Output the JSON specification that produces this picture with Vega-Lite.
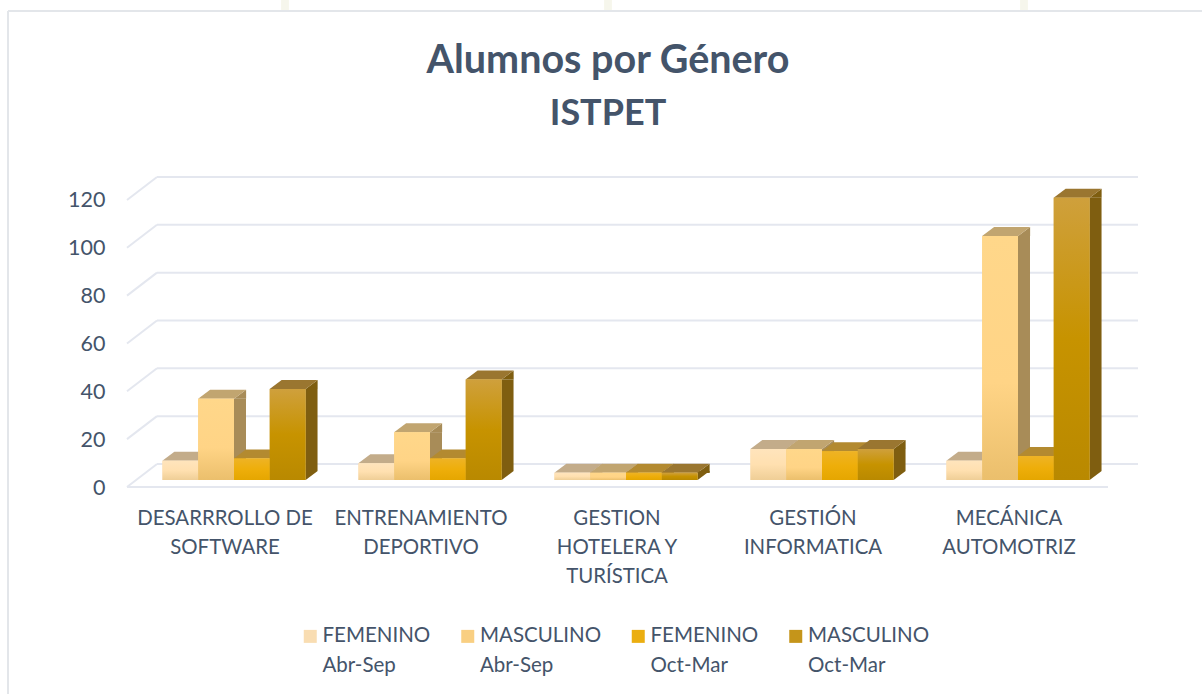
{
"$schema":"https://vega.github.io/schema/vega-lite/v6.json",
"autosize":"none","width":980,"height":299,
"padding":{"left":136,"top":181,"right":86,"bottom":214},
"background":"white",
"title":{"text":"Alumnos por Género","subtitle":"ISTPET","font":"Lato","fontSize":39.5,"fontWeight":"bold","color":"#44546A","subtitleFont":"Lato","subtitleFontSize":36,"subtitleFontWeight":"bold","subtitleColor":"#44546A","subtitlePadding":15,"anchor":"middle","frame":"group","dx":-18,"offset":-136},
"config":{"view":{"stroke":null},
 "style":{"guide-label":{"lineHeight":30}},
 "axisX":{"domain":false,"ticks":false,"labelAngle":0,"labelFont":"Lato","labelFontSize":20.4,"labelColor":"#44546A","labelOffset":-9,"labelPadding":28,"labelLineHeight":29,"labelLimit":400,"labelOverlap":false,"labelBound":false,"labelFlush":false,"grid":false,
   "labelExpr":"datum.value=='DESARRROLLO DE SOFTWARE'?['DESARRROLLO DE','SOFTWARE']:datum.value=='ENTRENAMIENTO DEPORTIVO'?['ENTRENAMIENTO','DEPORTIVO']:datum.value=='GESTION HOTELERA Y TURÍSTICA'?['GESTION','HOTELERA Y','TURÍSTICA']:datum.value=='GESTIÓN INFORMATICA'?['GESTIÓN','INFORMATICA']:['MECÁNICA','AUTOMOTRIZ']"},
 "axisY":{"domain":false,"ticks":false,"grid":false,"labelFont":"Lato","labelFontSize":21.5,"labelColor":"#44546A","labelPadding":31,"labelOffset":8}},
"data":{"values":[
{"carrera":"DESARRROLLO DE SOFTWARE","serie":"FEMENINO|Abr-Sep","alumnos":8},
{"carrera":"DESARRROLLO DE SOFTWARE","serie":"MASCULINO|Abr-Sep","alumnos":34},
{"carrera":"DESARRROLLO DE SOFTWARE","serie":"FEMENINO|Oct-Mar","alumnos":9},
{"carrera":"DESARRROLLO DE SOFTWARE","serie":"MASCULINO|Oct-Mar","alumnos":38},
{"carrera":"ENTRENAMIENTO DEPORTIVO","serie":"FEMENINO|Abr-Sep","alumnos":7},
{"carrera":"ENTRENAMIENTO DEPORTIVO","serie":"MASCULINO|Abr-Sep","alumnos":20},
{"carrera":"ENTRENAMIENTO DEPORTIVO","serie":"FEMENINO|Oct-Mar","alumnos":9},
{"carrera":"ENTRENAMIENTO DEPORTIVO","serie":"MASCULINO|Oct-Mar","alumnos":42},
{"carrera":"GESTION HOTELERA Y TURÍSTICA","serie":"FEMENINO|Abr-Sep","alumnos":3},
{"carrera":"GESTION HOTELERA Y TURÍSTICA","serie":"MASCULINO|Abr-Sep","alumnos":3},
{"carrera":"GESTION HOTELERA Y TURÍSTICA","serie":"FEMENINO|Oct-Mar","alumnos":3},
{"carrera":"GESTION HOTELERA Y TURÍSTICA","serie":"MASCULINO|Oct-Mar","alumnos":3},
{"carrera":"GESTIÓN INFORMATICA","serie":"FEMENINO|Abr-Sep","alumnos":13},
{"carrera":"GESTIÓN INFORMATICA","serie":"MASCULINO|Abr-Sep","alumnos":13},
{"carrera":"GESTIÓN INFORMATICA","serie":"FEMENINO|Oct-Mar","alumnos":12},
{"carrera":"GESTIÓN INFORMATICA","serie":"MASCULINO|Oct-Mar","alumnos":13},
{"carrera":"MECÁNICA AUTOMOTRIZ","serie":"FEMENINO|Abr-Sep","alumnos":8},
{"carrera":"MECÁNICA AUTOMOTRIZ","serie":"MASCULINO|Abr-Sep","alumnos":102},
{"carrera":"MECÁNICA AUTOMOTRIZ","serie":"FEMENINO|Oct-Mar","alumnos":10},
{"carrera":"MECÁNICA AUTOMOTRIZ","serie":"MASCULINO|Oct-Mar","alumnos":118}
]},
"resolve":{"scale":{"color":"independent"}},
"layer":[
{"mark":{"type":"rule","stroke":"#E3E6EA","strokeWidth":2},"encoding":{"x":{"value":-128},"x2":{"value":1066},"y":{"value":-170}}},
{"mark":{"type":"rule","stroke":"#E3E6EA","strokeWidth":2},"encoding":{"x":{"value":-128},"y":{"value":-170},"y2":{"value":513}}},
{"mark":{"type":"rule","stroke":"#F6F6EC","strokeWidth":7},"encoding":{"x":{"value":149},"y":{"value":-181},"y2":{"value":-171}}},
{"mark":{"type":"rule","stroke":"#F6F6EC","strokeWidth":7},"encoding":{"x":{"value":472},"y":{"value":-181},"y2":{"value":-171}}},
{"mark":{"type":"rule","stroke":"#F6F6EC","strokeWidth":7},"encoding":{"x":{"value":888},"y":{"value":-181},"y2":{"value":-171}}},
{"data":{"values":[{"t":0},{"t":20},{"t":40},{"t":60},{"t":80},{"t":100},{"t":120}]},
 "mark":{"type":"rule","stroke":"#E4E7EF","strokeWidth":2,"yOffset":-16},
 "encoding":{"x":{"value":21},"x2":{"value":1002},"y":{"field":"t","type":"quantitative","title":null,"scale":{"domain":[0,125],"nice":false}}}},
{"data":{"values":[{"t":0},{"t":20},{"t":40},{"t":60},{"t":80},{"t":100},{"t":120}]},
 "mark":{"type":"point","shape":"M0 0L30 -23","size":4,"stroke":"#E4E7EF","strokeWidth":2,"opacity":1,"filled":false,"yOffset":7},
 "encoding":{"x":{"value":-9},"y":{"field":"t","type":"quantitative","title":null}}},
{"data":{"values":[{"t":0}]},
 "mark":{"type":"rule","stroke":"#E4E7EF","strokeWidth":2,"yOffset":7},
 "encoding":{"x":{"value":-9},"x2":{"value":972},"y":{"field":"t","type":"quantitative","title":null}}},
{"transform":[{"filter":"datum.serie=='FEMENINO|Abr-Sep'"}],
 "mark":{"type":"rule","strokeWidth":12,"xOffset":6,"y2Offset":-9,"stroke":"#B9A284"},
 "encoding":{"x":{"field":"carrera","type":"nominal","sort":null,"title":null,"bandPosition":0.25,"scale":{"paddingInner":0.27,"paddingOuter":0.135}},"y":{"field":"alumnos","type":"quantitative","title":null},"y2":{"datum":0}}},
{"transform":[{"filter":"datum.serie=='MASCULINO|Abr-Sep'"}],
 "mark":{"type":"rule","strokeWidth":12,"xOffset":6,"y2Offset":-9,"stroke":"#A88C58"},
 "encoding":{"x":{"field":"carrera","type":"nominal","sort":null,"title":null,"bandPosition":0.5},"y":{"field":"alumnos","type":"quantitative","title":null},"y2":{"datum":0}}},
{"transform":[{"filter":"datum.serie=='FEMENINO|Oct-Mar'"}],
 "mark":{"type":"rule","strokeWidth":12,"xOffset":6,"y2Offset":-9,"stroke":"#92701F"},
 "encoding":{"x":{"field":"carrera","type":"nominal","sort":null,"title":null,"bandPosition":0.75},"y":{"field":"alumnos","type":"quantitative","title":null},"y2":{"datum":0}}},
{"transform":[{"filter":"datum.serie=='MASCULINO|Oct-Mar'"}],
 "mark":{"type":"rule","strokeWidth":12,"xOffset":6,"y2Offset":-9,"stroke":"#7F5E10"},
 "encoding":{"x":{"field":"carrera","type":"nominal","sort":null,"title":null,"bandPosition":1},"y":{"field":"alumnos","type":"quantitative","title":null},"y2":{"datum":0}}},
{"mark":{"type":"point","shape":"M18 0L30 -9L30 0Z","size":4,"filled":true,"opacity":1,"strokeWidth":0},
 "encoding":{
  "x":{"field":"carrera","type":"nominal","sort":null,"title":null},
  "xOffset":{"field":"serie","type":"nominal","sort":null,"scale":{"padding":0}},
  "y":{"field":"alumnos","type":"quantitative","title":null},
  "color":{"field":"serie","type":"nominal","sort":null,"legend":null,"scale":{"domain":["FEMENINO|Abr-Sep","MASCULINO|Abr-Sep","FEMENINO|Oct-Mar","MASCULINO|Oct-Mar"],"range":["#B9A284","#A88C58","#92701F","#7F5E10"]}}}},
{"mark":{"type":"point","shape":"M18 0L30 -9L18 -9Z","size":4,"filled":true,"opacity":1,"strokeWidth":0},
 "encoding":{
  "x":{"field":"carrera","type":"nominal","sort":null,"title":null},
  "xOffset":{"field":"serie","type":"nominal","sort":null},
  "y":{"datum":0,"type":"quantitative","title":null},
  "color":{"field":"serie","type":"nominal","sort":null,"legend":null,"scale":{"domain":["FEMENINO|Abr-Sep","MASCULINO|Abr-Sep","FEMENINO|Oct-Mar","MASCULINO|Oct-Mar"],"range":["#B9A284","#A88C58","#92701F","#7F5E10"]}}}},
{"mark":{"type":"point","shape":"M-18 0L-6 -9L30 -9L18 0Z","size":4,"filled":true,"opacity":1,"strokeWidth":0},
 "encoding":{
  "x":{"field":"carrera","type":"nominal","sort":null,"title":null},
  "xOffset":{"field":"serie","type":"nominal","sort":null},
  "y":{"field":"alumnos","type":"quantitative","title":null},
  "color":{"field":"serie","type":"nominal","sort":null,"legend":null,"scale":{"domain":["FEMENINO|Abr-Sep","MASCULINO|Abr-Sep","FEMENINO|Oct-Mar","MASCULINO|Oct-Mar"],"range":["#C3AC8A","#C1A570","#B38A30","#9A7630"]}}}},
{"mark":{"type":"bar","stroke":null},
 "encoding":{
  "x":{"field":"carrera","type":"nominal","sort":null,"title":null},
  "xOffset":{"field":"serie","type":"nominal","sort":null},
  "y":{"field":"alumnos","type":"quantitative","stack":null,"title":null},
  "color":{"field":"serie","type":"nominal","sort":null,
   "scale":{"domain":["FEMENINO|Abr-Sep","MASCULINO|Abr-Sep","FEMENINO|Oct-Mar","MASCULINO|Oct-Mar"],
    "range":["#F9DDB2","#F9CF82","#EBAE10","#C5951A"]},
   "legend":{"title":null,"orient":"none","legendX":164,"legendY":445,"direction":"horizontal","columns":4,"columnPadding":26.5,"symbolType":"square","symbolSize":169,"symbolStrokeWidth":0,"labelFont":"Lato","labelFontSize":20.5,"labelColor":"#44546A","labelLimit":300,"labelOffset":2,
    "labelExpr":"split(datum.label,'|')"}}}},
{"transform":[{"filter":"datum.serie=='FEMENINO|Abr-Sep'"}],
 "mark":{"type":"bar","stroke":null,"color":{"gradient":"linear","x1":0,"y1":0,"x2":0,"y2":1,"stops":[{"offset":0,"color":"#FFE4BC"},{"offset":0.5,"color":"#FFE0B0"},{"offset":1,"color":"#EFCE96"}]}},
 "encoding":{"x":{"field":"carrera","type":"nominal","sort":null,"title":null},"xOffset":{"field":"serie","type":"nominal","sort":null},"y":{"field":"alumnos","type":"quantitative","stack":null,"title":null}}},
{"transform":[{"filter":"datum.serie=='MASCULINO|Abr-Sep'"}],
 "mark":{"type":"bar","stroke":null,"color":{"gradient":"linear","x1":0,"y1":0,"x2":0,"y2":1,"stops":[{"offset":0,"color":"#FFD78A"},{"offset":0.6,"color":"#FFD486"},{"offset":1,"color":"#EBBF6C"}]}},
 "encoding":{"x":{"field":"carrera","type":"nominal","sort":null,"title":null},"xOffset":{"field":"serie","type":"nominal","sort":null},"y":{"field":"alumnos","type":"quantitative","stack":null,"title":null}}},
{"transform":[{"filter":"datum.serie=='FEMENINO|Oct-Mar'"}],
 "mark":{"type":"bar","stroke":null,"color":{"gradient":"linear","x1":0,"y1":0,"x2":0,"y2":1,"stops":[{"offset":0,"color":"#EEB325"},{"offset":0.5,"color":"#EEAE0A"},{"offset":1,"color":"#E5A600"}]}},
 "encoding":{"x":{"field":"carrera","type":"nominal","sort":null,"title":null},"xOffset":{"field":"serie","type":"nominal","sort":null},"y":{"field":"alumnos","type":"quantitative","stack":null,"title":null}}},
{"transform":[{"filter":"datum.serie=='MASCULINO|Oct-Mar'"}],
 "mark":{"type":"bar","stroke":null,"color":{"gradient":"linear","x1":0,"y1":0,"x2":0,"y2":1,"stops":[{"offset":0,"color":"#CFA03C"},{"offset":0.5,"color":"#C79300"},{"offset":1,"color":"#B98900"}]}},
 "encoding":{"x":{"field":"carrera","type":"nominal","sort":null,"title":null},"xOffset":{"field":"serie","type":"nominal","sort":null},"y":{"field":"alumnos","type":"quantitative","stack":null,"title":null}}}
]}
